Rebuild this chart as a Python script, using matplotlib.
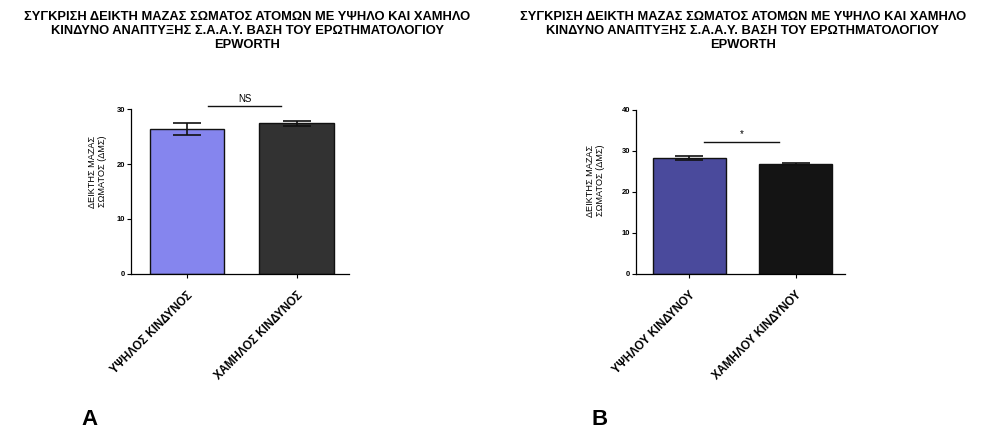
import matplotlib
matplotlib.use("Agg")
import matplotlib.pyplot as plt

plt.rcParams["font.family"] = ["Liberation Sans", "DejaVu Sans"]
plt.rcParams["font.weight"] = "bold"

TITLE = ("ΣΥΓΚΡΙΣΗ ΔΕΙΚΤΗ ΜΑΖΑΣ ΣΩΜΑΤΟΣ ΑΤΟΜΩΝ ΜΕ ΥΨΗΛΟ ΚΑΙ ΧΑΜΗΛΟ\n"
         "ΚΙΝΔΥΝΟ ΑΝΑΠΤΥΞΗΣ Σ.Α.Α.Υ. ΒΑΣΗ ΤΟΥ ΕΡΩΤΗΜΑΤΟΛΟΓΙΟΥ\nEPWORTH")
YLABEL = "ΔΕΙΚΤΗΣ ΜΑΖΑΣ\nΣΩΜΑΤΟΣ (ΔΜΣ)"

# panel A
a_groups = ["ΥΨΗΛΟΣ ΚΙΝΔΥΝΟΣ", "ΧΑΜΗΛΟΣ ΚΙΝΔΥΝΟΣ"]
a_means = [26.4, 27.4]
a_sem = [1.1, 0.4]
a_colors = ["#8585ee", "#323232"]
a_sig = "NS"

# panel B
b_groups = ["ΥΨΗΛΟΥ ΚΙΝΔΥΝΟΥ", "ΧΑΜΗΛΟΥ ΚΙΝΔΥΝΟΥ"]
b_means = [28.3, 26.8]
b_sem = [0.6, 0.3]
b_colors = ["#4a4a9c", "#141414"]
b_sig = "*"

fig = plt.figure(figsize=(9.89, 4.30), dpi=100)


def panel(rect, groups, means, sem, colors, ymax, yticks, xlim, width,
          sig, sig_y, sig_x, ylab_xy, title_x, letter, letter_x):
    ax = fig.add_axes(rect)
    x = list(range(len(groups)))
    ax.bar(x, means, width=width, color=colors, edgecolor="#111111",
           linewidth=1.0, zorder=2)
    ax.errorbar(x, means, yerr=sem, fmt="none", ecolor="#111111",
                elinewidth=1.2, capsize=10, capthick=1.2, zorder=3)
    ax.set_xlim(*xlim)
    ax.set_ylim(0, ymax)
    ax.set_yticks(yticks)
    ax.set_xticks(x)
    ax.set_xticklabels(groups, rotation=45, ha="right", va="top",
                       rotation_mode="anchor", fontsize=8.3)
    ax.tick_params(axis="y", labelsize=5.5, length=3, width=0.8, pad=1)
    ax.tick_params(axis="x", length=3, width=0.8, pad=8)
    for s in ("top", "right"):
        ax.spines[s].set_visible(False)
    for s in ("left", "bottom"):
        ax.spines[s].set_linewidth(0.9)
    ax.set_ylabel(YLABEL, fontsize=6.6, linespacing=1.1)
    ax.yaxis.set_label_coords(*ylab_xy)
    # significance bar between the two groups
    ax.plot(sig_x, [sig_y, sig_y], color="#111111", lw=1.0, clip_on=False)
    ax.text(sum(sig_x) / 2, sig_y + ymax * 0.015, sig, ha="center",
            va="bottom", fontsize=7, fontweight="normal")
    fig.text(title_x, 0.975, TITLE, ha="center", va="top", fontsize=9.3,
             linespacing=1.22)
    fig.text(letter_x, 0.012, letter, fontsize=16, ha="left", va="baseline")
    return ax


panel([0.1325, 0.3628, 0.2205, 0.3837], a_groups, a_means, a_sem, a_colors,
      30, [0, 10, 20, 30], (-0.51, 1.48), 0.68,
      a_sig, 30.5, [0.19, 0.86], (-0.11, 0.62), 0.25, "A", 0.082)

panel([0.643, 0.3628, 0.2115, 0.3814], b_groups, b_means, b_sem, b_colors,
      40, [0, 10, 20, 30, 40], (-0.505, 1.467), 0.69,
      b_sig, 32.3, [0.14, 0.84], (-0.15, 0.57), 0.751, "B", 0.598)

fig.savefig("out.png", dpi=100)
